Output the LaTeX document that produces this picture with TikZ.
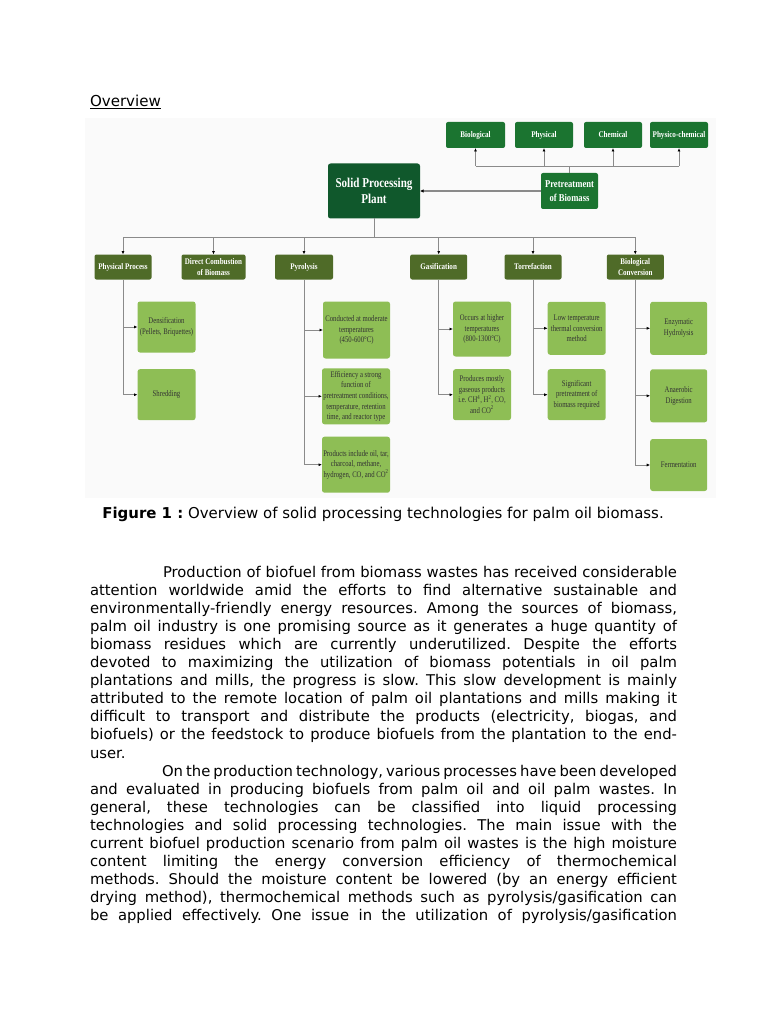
\documentclass[tikz,border=0pt]{standalone}
\usepackage{fontspec}
\setmainfont{DejaVu Sans}
\newfontfamily\dia[FakeStretch=0.82]{Liberation Serif}
\newfontfamily\diasm[FakeStretch=0.78]{Liberation Serif}
\usetikzlibrary{arrows.meta}
\definecolor{sppc}{HTML}{10582C}
\definecolor{prec}{HTML}{1B7430}
\definecolor{lvtwo}{HTML}{4F6B28}
\definecolor{lvthree}{HTML}{8EBE55}
\definecolor{linec}{HTML}{8A8A8A}
\definecolor{txtc}{HTML}{333333}
\newcommand{\jl}[1]{\makebox[587pt][s]{#1}\par}
\frenchspacing
\begin{document}
\begin{tikzpicture}[x=1pt,y=-1pt,
  every node/.style={inner sep=0pt,outer sep=0pt},
  sppbox/.style={fill=sppc,rounded corners=2.5pt,text=white,align=center,
    font=\dia\bfseries\fontsize{13.5}{15.7}\selectfont,minimum width=92pt,minimum height=55pt},
  prebox/.style={fill=prec,rounded corners=2pt,text=white,align=center,
    font=\dia\bfseries\fontsize{8.7}{10.5}\selectfont,minimum width=58pt,minimum height=26pt},
  pretop/.style={fill=prec,rounded corners=2pt,text=white,align=center,
    font=\dia\bfseries\fontsize{10.5}{13.3}\selectfont,minimum width=57pt,minimum height=36pt},
  lvtwobox/.style={fill=lvtwo,rounded corners=2pt,text=white,align=center,
    font=\dia\bfseries\fontsize{8.6}{10.5}\selectfont,minimum width=57pt,minimum height=25pt},
  lvthreebox/.style={fill=lvthree,rounded corners=2.5pt,text=txtc,align=center,
    font=\diasm\fontsize{8.6}{10.6}\selectfont,minimum width=58pt,minimum height=51pt},
  conn/.style={draw=linec,line width=0.9pt},
  arr/.style={draw=linec,line width=0.9pt,-{Latex[length=3.5pt,width=3pt,color=black]}},
  bigarr/.style={draw=linec,line width=1.6pt,-{Latex[length=3.5pt,width=3.5pt,color=black]}}
]
\useasboundingbox (0,0) rectangle (768,1024);
\fill[white] (0,0) rectangle (768,1024);
\fill[black!2] (85,118) rectangle (716,498);

% title
\node[anchor=base west,font=\fontsize{15.06}{18}\selectfont] (ov) at (90,107) {\underline{Overview}};

% top pretreatment categories
\node[prebox,minimum width=59pt] (bioA) at (475.5,135) {Biological};
\node[prebox] (phyA) at (544,135) {Physical};
\node[prebox] (cheA) at (613,135) {Chemical};
\node[prebox] (phcA) at (679,135) {Physico-chemical};
\node[pretop] (pre) at (569.5,191) {Pretreatment\\of Biomass};
\node[sppbox] (spp) at (374,191) {Solid Processing\\Plant};

\coordinate (tb) at (569.5,166);
\draw[conn] (pre.north) -- (tb);
\draw[conn] (bioA.south |- tb) -- (phcA.south |- tb);
\foreach \n in {bioA,phyA,cheA,phcA} \draw[arr] (\n.south |- tb) -- (\n.south);
\draw[bigarr] (pre.west) -- (spp.east);

% level 2
\node[lvtwobox] (pp) at (123,267) {Physical Process};
\node[lvtwobox,minimum width=64pt] (dc) at (213.5,267) {Direct Combustion\\of Biomass};
\node[lvtwobox,minimum width=58pt] (py) at (304,267) {Pyrolysis};
\node[lvtwobox] (ga) at (438.7,267) {Gasification};
\node[lvtwobox] (to) at (533,267) {Torrefaction};
\node[lvtwobox] (bc) at (635.3,267) {Biological\\Conversion};

\coordinate (bus) at (374,237);
\draw[conn] (spp.south) -- (bus);
\draw[conn] (pp.north |- bus) -- (bc.north |- bus);
\foreach \n in {pp,dc,py,ga,to,bc} \draw[arr] (\n.north |- bus) -- (\n.north);

% level 3
\node[lvthreebox] (dens) at (166.5,327) {Densification\\(Pellets, Briquettes)};
\node[lvthreebox] (shred) at (166.5,394.7) {Shredding};
\node[lvthreebox,minimum width=67pt,minimum height=57pt] (cond) at (356.5,330) {Conducted at moderate\\temperatures\\(450-600°C)};
\node[lvthreebox,minimum width=68pt,minimum height=56pt] (eff) at (356,396.3) {Efficiency a strong\\function of\\pretreatment conditions,\\temperature, retention\\time, and reactor type};
\node[lvthreebox,minimum width=68pt,minimum height=56pt] (prod) at (356,464.7) {Products include oil, tar,\\charcoal, methane,\\hydrogen, CO, and CO\textsuperscript{2}};
\node[lvthreebox,minimum height=55pt] (occ) at (482,329) {Occurs at higher\\temperatures\\(800-1300°C)};
\node[lvthreebox] (prm) at (482,394.7) {Produces mostly\\gaseous products\\i.e. CH\textsuperscript{4}, H\textsuperscript{2}, CO,\\and CO\textsuperscript{2}};
\node[lvthreebox,minimum height=53pt] (low) at (576.7,328.3) {Low temperature\\thermal conversion\\method};
\node[lvthreebox] (sig) at (576.7,394.7) {Significant\\pretreatment of\\biomass required};
\node[lvthreebox,minimum width=57pt,minimum height=53pt] (enz) at (678.7,328.3) {Enzymatic\\Hydrolysis};
\node[lvthreebox,minimum width=57pt,minimum height=53pt] (ana) at (678.7,395.8) {Anaerobic\\Digestion};
\node[lvthreebox,minimum width=57pt,minimum height=52pt] (fer) at (678.7,465) {Fermentation};

\draw[conn] (pp.south) -- (pp.south |- shred.west);
\draw[arr] (pp.south |- dens.west) -- (dens.west);
\draw[arr] (pp.south |- shred.west) -- (shred.west);

\draw[conn] (py.south) -- (py.south |- prod.west);
\foreach \n in {cond,eff,prod} \draw[arr] (py.south |- \n.west) -- (\n.west);

\draw[conn] (ga.south) -- (ga.south |- prm.west);
\foreach \n in {occ,prm} \draw[arr] (ga.south |- \n.west) -- (\n.west);

\draw[conn] (to.south) -- (to.south |- sig.west);
\foreach \n in {low,sig} \draw[arr] (to.south |- \n.west) -- (\n.west);

\draw[conn] (bc.south) -- (bc.south |- fer.west);
\foreach \n in {enz,ana,fer} \draw[arr] (bc.south |- \n.west) -- (\n.west);

% caption
\node[anchor=base,font=\fontsize{14.95}{18}\selectfont] (cap) at (383,518) {\textbf{Figure 1 :} Overview of solid processing technologies for palm oil biomass.};

% body text
\node[anchor=base west] (body) at (90,577.5) {\parbox[t]{587pt}{\fontsize{14.8}{18.05}\selectfont
\spaceskip=0.318em plus 0.4em minus 0.12em
\jl{\hspace*{73pt}Production of biofuel from biomass wastes has received considerable}
\jl{attention worldwide amid the efforts to find alternative sustainable and}
\jl{environmentally-friendly energy resources. Among the sources of biomass,}
\jl{palm oil industry is one promising source as it generates a huge quantity of}
\jl{biomass residues which are currently underutilized. Despite the efforts}
\jl{devoted to maximizing the utilization of biomass potentials in oil palm}
\jl{plantations and mills, the progress is slow. This slow development is mainly}
\jl{attributed to the remote location of palm oil plantations and mills making it}
\jl{difficult to transport and distribute the products (electricity, biogas, and}
\jl{biofuels) or the feedstock to produce biofuels from the plantation to the end-}
\makebox[587pt][l]{user.}\par
\jl{\hspace*{72pt}On the production technology, various processes have been developed}
\jl{and evaluated in producing biofuels from palm oil and oil palm wastes. In}
\jl{general, these technologies can be classified into liquid processing}
\jl{technologies and solid processing technologies. The main issue with the}
\jl{current biofuel production scenario from palm oil wastes is the high moisture}
\jl{content limiting the energy conversion efficiency of thermochemical}
\jl{methods. Should the moisture content be lowered (by an energy efficient}
\jl{drying method), thermochemical methods such as pyrolysis/gasification can}
\jl{be applied effectively. One issue in the utilization of pyrolysis/gasification}
}};
\end{tikzpicture}
\end{document}
